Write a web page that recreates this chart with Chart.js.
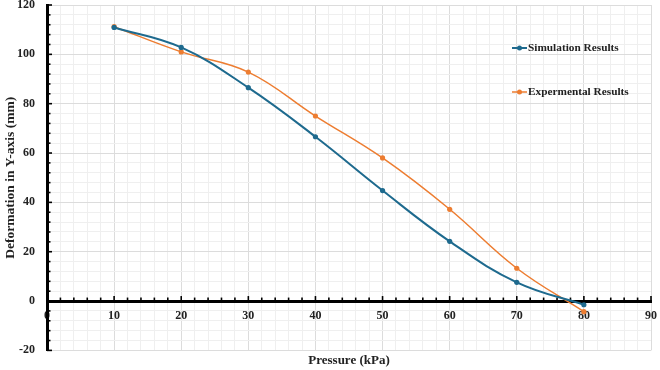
<!DOCTYPE html>
<html>
<head>
<meta charset="utf-8">
<script src="https://cdn.jsdelivr.net/npm/chart.js@4.4.1/dist/chart.umd.min.js"></script>
<style>
html,body{margin:0;padding:0;background:#fff;}
#wrap{width:660px;height:370px;position:relative;}
</style>
</head>
<body>
<div id="wrap"><canvas id="c"></canvas></div>
<script>
// ---- data ----
const pressure = [10, 20, 30, 40, 50, 60, 70, 80];
const simulation = [110.9, 102.8, 86.5, 66.6, 44.8, 24.2, 7.6, -1.5];
const experimental = [111.2, 101.0, 92.8, 75.0, 58.0, 37.2, 13.3, -4.3];
const seriesNames = ['Simulation Results', 'Expermental Results'];
const xTitle = 'Pressure (kPa)';
const yTitle = 'Deformation in Y-axis (mm)';
const xRange = [0, 90];
const yRange = [-20, 120];

const FONT = 'Liberation Serif, Times New Roman, serif';
const BLUE = '#1E6A8E';
const ORANGE = '#ED7D31';

const toPts = (xs, ys) => xs.map((x, i) => ({x: x, y: ys[i]}));

const tickMarks = {
  id: 'tickMarks',
  beforeDatasetsDraw(chart) {
    const ctx = chart.ctx, xs = chart.scales.x, ys = chart.scales.y;
    const y0 = ys.getPixelForValue(0);
    const x0 = xs.getPixelForValue(0);
    ctx.save();
    ctx.strokeStyle = '#000';
    ctx.lineWidth = 1.6;
    xs.ticks.forEach(t => {
      const px = xs.getPixelForValue(t.value);
      const len = (t.value % 10 === 0) ? 5 : 3.5;
      ctx.beginPath(); ctx.moveTo(px, y0); ctx.lineTo(px, y0 - len); ctx.stroke();
    });
    ys.ticks.forEach(t => {
      const py = ys.getPixelForValue(t.value);
      const len = (t.value % 20 === 0) ? 5 : 3.5;
      ctx.beginPath(); ctx.moveTo(x0, py); ctx.lineTo(x0 + len, py); ctx.stroke();
    });
    ctx.restore();
  }
};

const innerLegend = {
  id: 'innerLegend',
  afterDraw(chart) {
    const ctx = chart.ctx, a = chart.chartArea;
    const left = a.right - 139;
    ctx.save();
    ctx.font = 'bold 11.3px ' + FONT;
    ctx.textBaseline = 'middle';
    ctx.textAlign = 'left';
    chart.data.datasets.forEach((ds, i) => {
      const y = a.top + 43 + i * 44;
      ctx.strokeStyle = ds.borderColor;
      ctx.lineWidth = ds.borderWidth;
      ctx.beginPath(); ctx.moveTo(left, y); ctx.lineTo(left + 15, y); ctx.stroke();
      ctx.fillStyle = ds.borderColor;
      ctx.beginPath(); ctx.arc(left + 7.5, y, 2.5, 0, Math.PI * 2); ctx.fill();
      ctx.fillStyle = '#222';
      ctx.fillText(ds.label, left + 16, y);
    });
    ctx.restore();
  }
};

new Chart(document.getElementById('c'), {
  type: 'line',
  data: {
    datasets: [
      {label: seriesNames[0], data: toPts(pressure, simulation), borderColor: BLUE, backgroundColor: BLUE,
       borderWidth: 2, pointRadius: 2.6, pointBorderWidth: 0, tension: 0.4, fill: false},
      {label: seriesNames[1], data: toPts(pressure, experimental), borderColor: ORANGE, backgroundColor: ORANGE,
       borderWidth: 1.5, pointRadius: 2.6, pointBorderWidth: 0, tension: 0.4, fill: false}
    ]
  },
  options: {
    responsive: true,
    maintainAspectRatio: false,
    animation: false,
    layout: {padding: {left: 2, right: 0, top: 0, bottom: 2}},
    plugins: {legend: {display: false}, tooltip: {enabled: false}},
    scales: {
      x: {
        type: 'linear', min: xRange[0], max: xRange[1],
        position: {y: 0},
        afterFit: s => { s.paddingRight = 9; s.paddingLeft = 0; },
        grid: {
          drawTicks: false,
          color: c => (c.tick && c.tick.value % 10 === 0) ? '#dcdcdc' : '#efefef',
          lineWidth: 1
        },
        border: {display: true, color: '#000', width: 3},
        ticks: {
          stepSize: 2, autoSkip: false, maxRotation: 0, padding: 8,
          color: '#222', font: {family: FONT, size: 12, weight: 'bold'},
          callback: v => (v % 10 === 0) ? String(v) : ''
        }
      },
      xt: {
        type: 'linear', position: 'bottom', display: true,
        grid: {display: false, drawTicks: false}, border: {display: false},
        ticks: {display: false},
        title: {display: true, text: xTitle, color: '#222', padding: {top: 2, bottom: 0},
                font: {family: FONT, size: 13, weight: 'bold'}}
      },
      y: {
        type: 'linear', min: yRange[0], max: yRange[1], position: 'left',
        afterFit: s => { s.width = 45; s.paddingTop = 5; s.paddingBottom = 0; },
        grid: {
          drawTicks: false,
          color: c => (c.tick && c.tick.value % 20 === 0) ? '#dcdcdc' : '#efefef',
          lineWidth: 1
        },
        border: {display: true, color: '#000', width: 3},
        ticks: {
          stepSize: 4, autoSkip: false, padding: 12,
          color: '#222', font: {family: FONT, size: 12, weight: 'bold'},
          callback: v => (v % 20 === 0) ? String(v) : ''
        },
        title: {display: true, text: yTitle, color: '#222', padding: {top: 0, bottom: 4},
                font: {family: FONT, size: 13.5, weight: 'bold'}}
      }
    }
  },
  plugins: [tickMarks, innerLegend]
});
</script>
</body>
</html>
